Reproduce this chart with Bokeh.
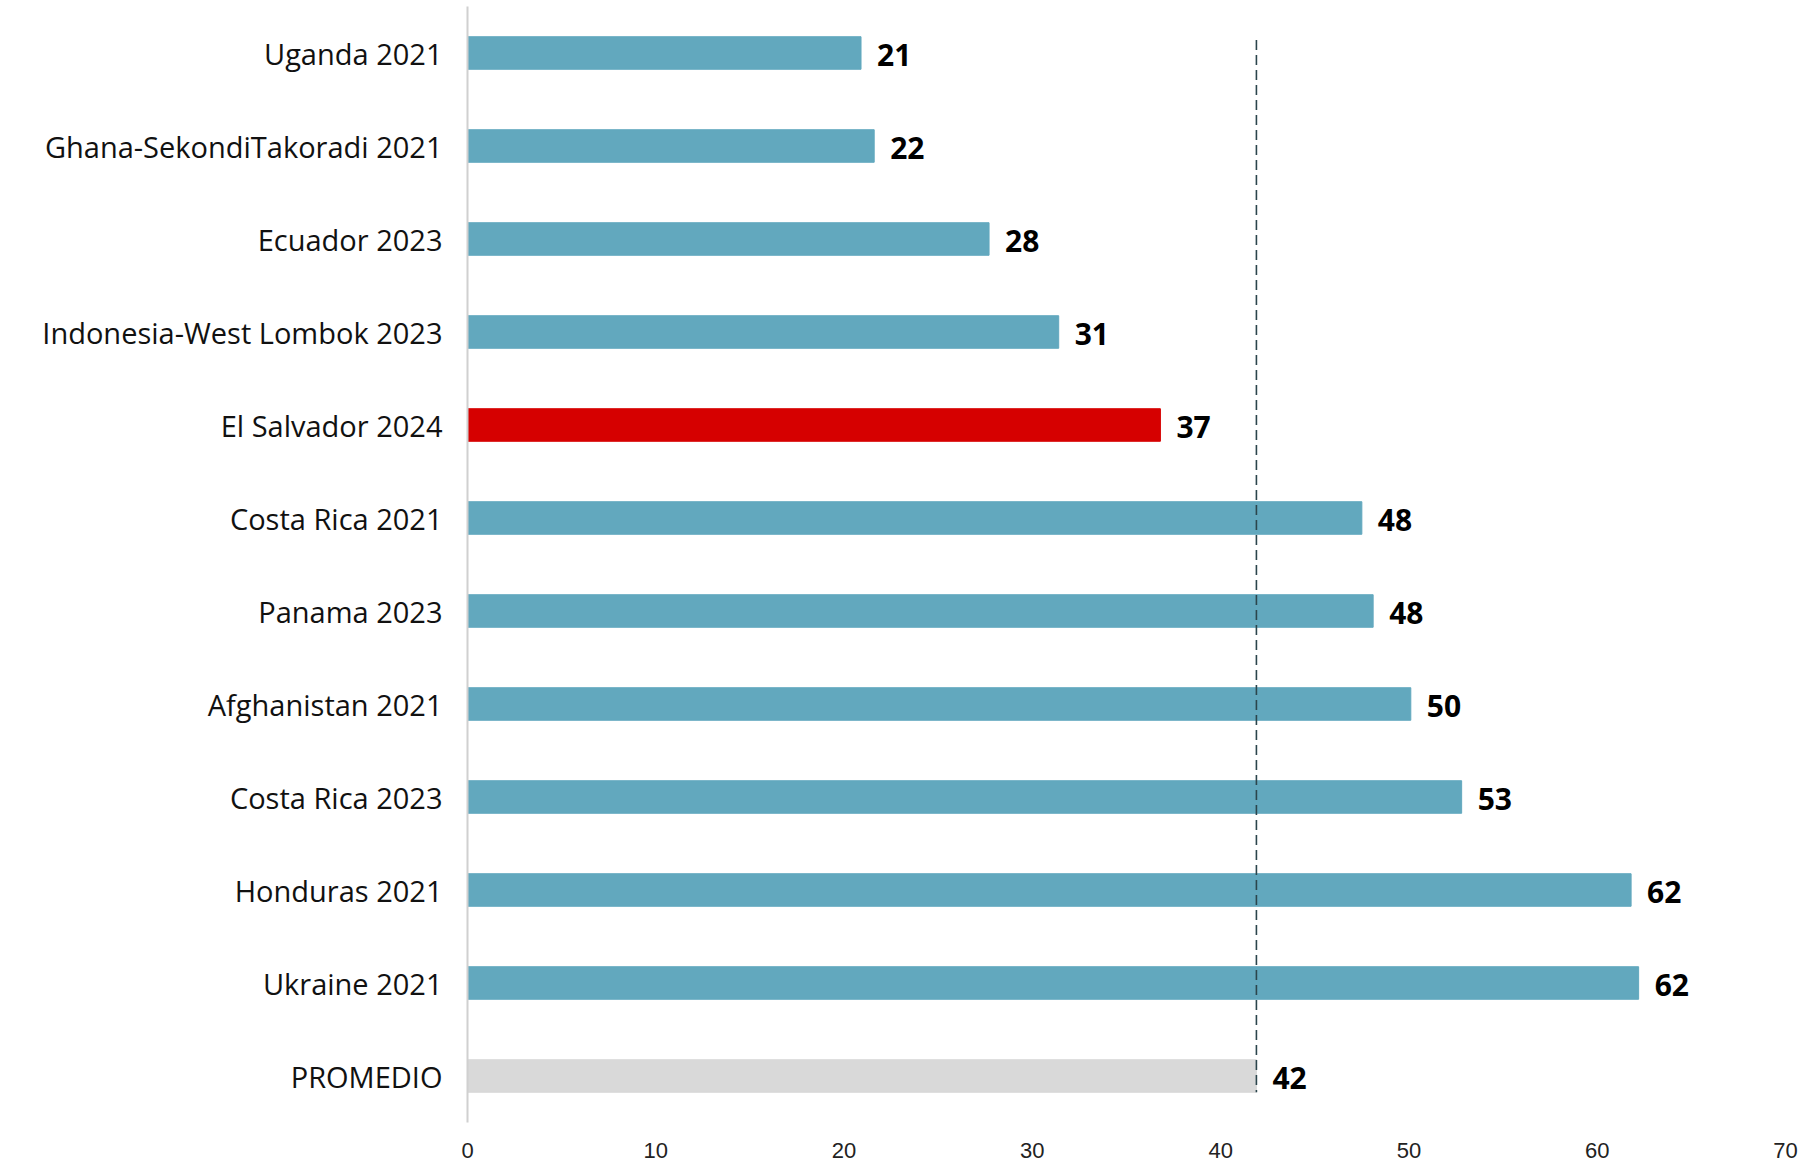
from bokeh.plotting import figure
from bokeh.models import ColumnDataSource, FactorRange, Range1d, FixedTicker
from bokeh.transform import dodge
from bokeh.core.properties import value
from bokeh.embed import file_html
from bokeh.resources import INLINE

categories = ["Uganda 2021", "Ghana-SekondiTakoradi 2021", "Ecuador 2023",
              "Indonesia-West Lombok 2023", "El Salvador 2024", "Costa Rica 2021",
              "Panama 2023", "Afghanistan 2021", "Costa Rica 2023", "Honduras 2021",
              "Ukraine 2021", "PROMEDIO"]
values = [20.9, 21.6, 27.7, 31.4, 36.8, 47.5, 48.1, 50.1, 52.8, 61.8, 62.2, 41.9]
highlight = "El Salvador 2024"
average_label = "PROMEDIO"
x_ticks = [0, 10, 20, 30, 40, 50, 60, 70]

TEAL = "#62a8be"
RED = "#d60000"
GREY = "#d9d9d9"

colors = [RED if c == highlight else (GREY if c == average_label else TEAL) for c in categories]
labels = [f"{v:.0f}" for v in values]
avg = values[categories.index(average_label)]

src = ColumnDataSource(dict(cat=categories, val=values, color=colors, label=labels))

p = figure(width=1800, height=1162, output_backend="svg", toolbar_location=None,
           y_range=FactorRange(factors=list(reversed(categories)), range_padding=0),
           x_range=Range1d(0, 70),
           min_border_left=467, min_border_right=15, min_border_top=6, min_border_bottom=40)

p.hbar(y="cat", right="val", left=0, height=0.35, color="color", source=src)

p.text(x="val", y="cat", text="label", source=src, x_offset=16, y_offset=2,
       text_font=value("Open Sans"), text_font_style="bold", text_font_size="30px",
       text_color="#000000", text_baseline="middle", text_align="left")

# dashed average line from first bar to the average bar
lsrc = ColumnDataSource(dict(x=[avg], top=[categories[0]], bottom=[average_label]))
p.segment(x0="x", x1="x",
          y0=dodge("top", 0.14, range=p.y_range),
          y1=dodge("bottom", -0.175, range=p.y_range),
          source=lsrc, line_color="#2b454c", line_width=1.6, line_dash="10 5")

p.xgrid.visible = False
p.ygrid.visible = False
p.outline_line_color = None

p.xaxis.ticker = FixedTicker(ticks=x_ticks)
p.xaxis.axis_line_color = None
p.xaxis.major_tick_line_color = None
p.xaxis.minor_tick_line_color = None
p.xaxis.major_label_text_font = "Liberation Sans"
p.xaxis.major_label_text_font_size = "22px"
p.xaxis.major_label_text_color = "#222222"
p.xaxis.major_label_standoff = 14

p.yaxis.axis_line_color = "#d0d0d0"
p.yaxis.axis_line_width = 2
p.yaxis.major_tick_line_color = None
p.yaxis.minor_tick_line_color = None
p.yaxis.major_label_text_font = "Open Sans"
p.yaxis.major_label_text_font_size = "29px"
p.yaxis.major_label_text_color = "#111111"
p.yaxis.major_label_standoff = 19

open("out.html", "w").write(file_html(p, INLINE))
